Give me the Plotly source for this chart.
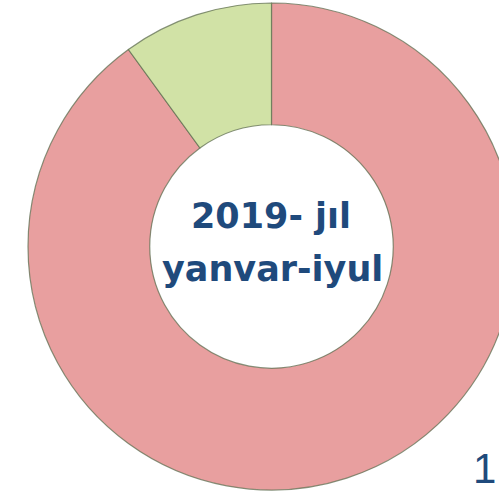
import plotly.graph_objects as go

labels = ["A", "B"]
values = [90, 10]
colors = ["#E89F9F", "#D1E2A6"]
center_lines = ["2019- jıl", "yanvar-iyul"]
corner_text = "1"

W, H = 515, 495
ML, MR, MT, MB = 28, 0, 3, 5
PH = H - MT - MB
PW = W - ML - MR


def px_x(x):
    return (x - ML) / PW


def px_y(y):
    return 1 - (y - MT) / PH


fig = go.Figure(go.Pie(
    labels=labels, values=values, hole=0.5, sort=False,
    direction="clockwise", rotation=0,
    marker=dict(colors=colors, line=dict(color="rgba(95,110,80,0.75)", width=1.2)),
    textinfo="none", hoverinfo="label+value", showlegend=False,
))

text_font = dict(family="DejaVu Sans", size=35, color="#1F4A7C", weight="bold")
fig.add_annotation(text="<b>%s</b>" % center_lines[0], x=px_x(271), y=px_y(215.5),
                   xref="paper", yref="paper", showarrow=False,
                   xanchor="center", yanchor="middle", font=text_font)
fig.add_annotation(text="<b>%s</b>" % center_lines[1], x=px_x(272), y=px_y(268.5),
                   xref="paper", yref="paper", showarrow=False,
                   xanchor="center", yanchor="middle", font=text_font)
fig.add_annotation(text=corner_text, x=px_x(498), y=px_y(494),
                   xref="paper", yref="paper", showarrow=False,
                   xanchor="right", yanchor="bottom",
                   font=dict(family="Liberation Sans, Arial", size=42, color="#1F4A7C"))

fig.update_layout(width=W, height=H, margin=dict(l=ML, r=MR, t=MT, b=MB),
                  paper_bgcolor="white", plot_bgcolor="white")

fig.write_html("out.html", config={"displayModeBar": False}, post_script=(
    "document.body.style.margin='0';"
    "document.body.style.overflow='hidden';"
    "document.documentElement.style.overflow='hidden';"))
